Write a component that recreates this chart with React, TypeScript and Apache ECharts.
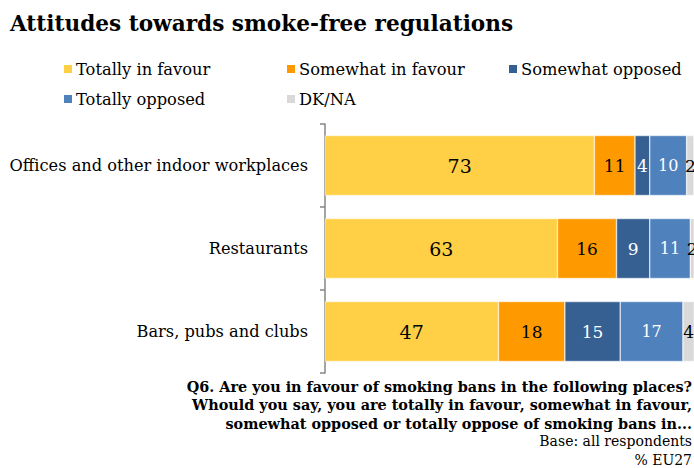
import React, { useEffect, useRef } from "react";
import * as echarts from "echarts";

const categories = [
  "Offices and other indoor workplaces",
  "Restaurants",
  "Bars, pubs and clubs",
];
const seriesNames = [
  "Totally in favour",
  "Somewhat in favour",
  "Somewhat opposed",
  "Totally opposed",
  "DK/NA",
];
const totallyInFavour = [73, 63, 47];
const somewhatInFavour = [11, 16, 18];
const somewhatOpposed = [4, 9, 15];
const totallyOpposed = [10, 11, 17];
const dkNa = [2, 2, 4];

const footnoteLines = [
  "Q6. Are you in favour of smoking bans in the following places?",
  "Whould you say, you are totally in favour, somewhat in favour,",
  "somewhat opposed or totally oppose of smoking bans in...",
];
const baseLines = ["Base: all respondents", "% EU27"];

const colors = ["#FFD045", "#FF9900", "#366092", "#4F81BD", "#D9D9D9"];
const labelColors = ["#000", "#000", "#fff", "#fff", "#000"];
const labelSizes = [19, 17, 17, 16, 17];

const FONT = "DejaVu Serif";

export default function App() {
  const ref = useRef<HTMLDivElement>(null);
  useEffect(() => {
    if (!ref.current) return;
    const chart = echarts.init(ref.current, undefined, { renderer: "svg" });
    const values = [totallyInFavour, somewhatInFavour, somewhatOpposed, totallyOpposed, dkNa];
    const legendPos = [
      [62, 61],
      [285, 61],
      [507, 61],
      [62, 91],
      [285, 91],
    ];
    chart.setOption({
      animation: false,
      textStyle: { fontFamily: FONT },
      color: colors,
      grid: { left: 325, right: 0, top: 124, bottom: 95, containLabel: false },
      xAxis: { type: "value", min: 0, max: 100, show: false },
      yAxis: {
        type: "category",
        data: categories,
        inverse: true,
        axisLine: { show: true, lineStyle: { color: "#868686", width: 1.5 } },
        axisTick: { show: true, length: 5, lineStyle: { color: "#868686", width: 1.5 } },
        axisLabel: { color: "#000", fontSize: 16.2, fontFamily: FONT, margin: 17 },
      },
      legend: seriesNames.map((n, i) => ({
        data: [n],
        left: legendPos[i][0],
        top: legendPos[i][1],
        icon: "rect",
        itemWidth: 10,
        itemHeight: 10,
        itemGap: 0,
        padding: 0,
        textStyle: { fontSize: 16.3, color: "#000", fontFamily: FONT, padding: [0, 0, 0, -2] },
      })),
      graphic: [
        {
          type: "text",
          left: 10,
          top: 12,
          style: { text: "Attitudes towards smoke-free regulations", font: `bold 21.6px '${FONT}'`, fill: "#000" },
        },
        ...footnoteLines.map((t, i) => ({
          type: "text",
          right: 2,
          top: 379 + i * 18.5,
          style: { text: t, font: `bold 14.4px '${FONT}'`, fill: "#000" },
        })),
        ...baseLines.map((t, i) => ({
          type: "text",
          right: 2,
          top: 434 + i * 18.5,
          style: { text: t, font: `14px '${FONT}'`, fill: "#000" },
        })),
      ],
      series: seriesNames.map((n, i) => ({
        name: n,
        type: "bar",
        stack: "total",
        barWidth: 60,
        data: values[i],
        itemStyle: { color: colors[i], borderColor: "#fff", borderWidth: 0.5 },
        label: {
          show: true,
          position: "inside",
          color: labelColors[i],
          fontSize: labelSizes[i],
          fontFamily: FONT,
        },
      })),
    });
    return () => chart.dispose();
  }, []);
  return (
    <div
      ref={ref}
      style={{ position: "absolute", left: 0, top: 0, width: 694, height: 468, background: "#fff" }}
    />
  );
}
